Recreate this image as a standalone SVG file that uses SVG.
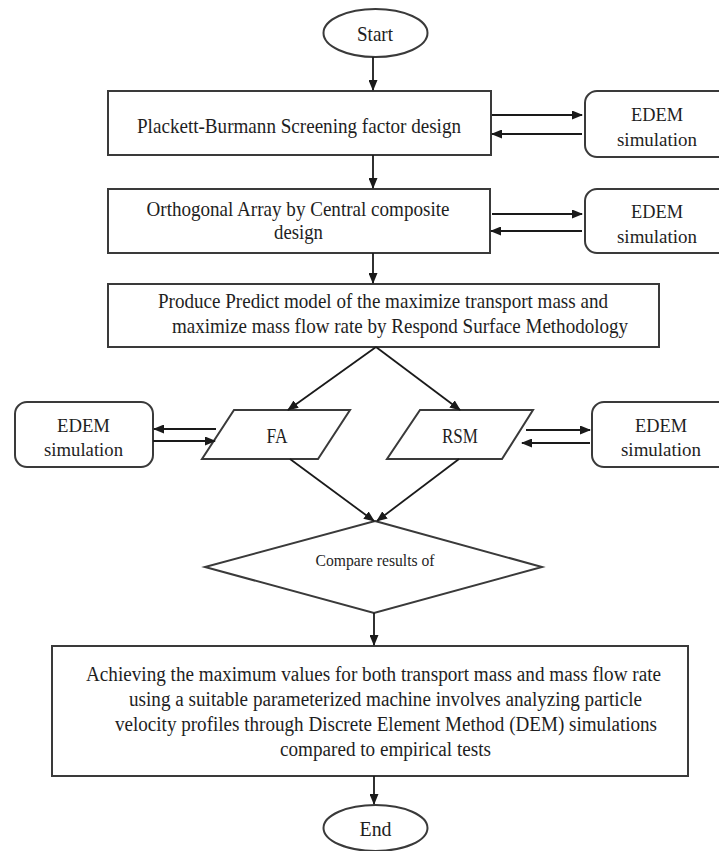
<svg xmlns="http://www.w3.org/2000/svg" width="719" height="851" viewBox="0 0 719 851">
  <defs>
    <marker id="ah" markerUnits="userSpaceOnUse" markerWidth="11" markerHeight="9" refX="10" refY="4.5" orient="auto">
      <path d="M0,0 L11,4.5 L0,9 z" fill="#1a1a1a"/>
    </marker>
    <style>
      .box{fill:#fff;stroke:#3a3a3a;stroke-width:2}
      .conn line{stroke:#1a1a1a;stroke-width:1.8;marker-end:url(#ah)}
      text{font-family:"Liberation Serif","Times New Roman",serif;fill:#1e1e1e;text-anchor:middle}
      .t{font-size:22px}
      .r{font-size:20px}
      .s{font-size:19.5px}
      .p{font-size:20px}
      .c{font-size:17px}
    </style>
  </defs>
  <rect width="719" height="851" fill="#fff"/>

  <g id="start">
    <ellipse class="box" cx="375.5" cy="33" rx="52" ry="24"/>
    <text class="t" x="375" y="41" textLength="36" lengthAdjust="spacingAndGlyphs">Start</text>
  </g>

  <g id="pb">
    <rect class="box" x="108" y="91" width="383" height="64"/>
    <text class="t" x="299" y="133" textLength="324" lengthAdjust="spacingAndGlyphs">Plackett-Burmann Screening factor design</text>
  </g>

  <g id="edem1">
    <rect class="box" x="585" y="91" width="150" height="66" rx="12"/>
    <text class="s" x="657" y="121" textLength="52" lengthAdjust="spacingAndGlyphs">EDEM</text>
    <text class="s" x="657" y="146" textLength="80" lengthAdjust="spacingAndGlyphs">simulation</text>
  </g>

  <g id="oa">
    <rect class="box" x="108" y="189" width="382" height="64"/>
    <text class="t" x="298" y="216" textLength="303" lengthAdjust="spacingAndGlyphs">Orthogonal Array by Central composite</text>
    <text class="t" x="298.5" y="239" textLength="49" lengthAdjust="spacingAndGlyphs">design</text>
  </g>

  <g id="edem2">
    <rect class="box" x="585" y="189" width="150" height="64" rx="12"/>
    <text class="s" x="657" y="218" textLength="52" lengthAdjust="spacingAndGlyphs">EDEM</text>
    <text class="s" x="657" y="243" textLength="80" lengthAdjust="spacingAndGlyphs">simulation</text>
  </g>

  <g id="rsm-model">
    <rect class="box" x="108" y="284" width="551" height="63"/>
    <text class="t" x="383" y="308" textLength="450" lengthAdjust="spacingAndGlyphs">Produce Predict model of the maximize transport mass and</text>
    <text class="t" x="400" y="333" textLength="456" lengthAdjust="spacingAndGlyphs">maximize mass flow rate by Respond Surface Methodology</text>
  </g>

  <g id="edem-left">
    <rect class="box" x="15" y="402" width="138" height="65" rx="12"/>
    <text class="s" x="83.5" y="432" textLength="53" lengthAdjust="spacingAndGlyphs">EDEM</text>
    <text class="s" x="83.5" y="456" textLength="79" lengthAdjust="spacingAndGlyphs">simulation</text>
  </g>

  <g id="fa">
    <polygon class="box" points="234,410 350,410 318,459 202,459"/>
    <text class="p" x="277" y="443" textLength="21" lengthAdjust="spacingAndGlyphs">FA</text>
  </g>

  <g id="rsm">
    <polygon class="box" points="420,410 533,410 502,459 387,459"/>
    <text class="p" x="460" y="443" textLength="36" lengthAdjust="spacingAndGlyphs">RSM</text>
  </g>

  <g id="edem-right">
    <rect class="box" x="592" y="402" width="150" height="65" rx="12"/>
    <text class="s" x="661" y="432" textLength="52" lengthAdjust="spacingAndGlyphs">EDEM</text>
    <text class="s" x="661" y="456" textLength="80" lengthAdjust="spacingAndGlyphs">simulation</text>
  </g>

  <g id="compare">
    <polygon class="box" points="375,521 542,567 374,613 205,567"/>
    <text class="c" x="375" y="566" textLength="119" lengthAdjust="spacingAndGlyphs">Compare results of</text>
  </g>

  <g id="result">
    <rect class="box" x="52" y="646" width="636" height="130"/>
    <text class="r" x="373.5" y="681" textLength="575" lengthAdjust="spacingAndGlyphs">Achieving the maximum values for both transport mass and mass flow rate</text>
    <text class="r" x="385.5" y="706" textLength="513" lengthAdjust="spacingAndGlyphs">using a suitable parameterized machine involves analyzing particle</text>
    <text class="r" x="386" y="731" textLength="542" lengthAdjust="spacingAndGlyphs">velocity profiles through Discrete Element Method (DEM) simulations</text>
    <text class="r" x="385.5" y="756" textLength="211" lengthAdjust="spacingAndGlyphs">compared to empirical tests</text>
  </g>

  <g id="end">
    <ellipse class="box" cx="375.5" cy="828" rx="52" ry="23"/>
    <text class="t" x="375.5" y="836" textLength="32" lengthAdjust="spacingAndGlyphs">End</text>
  </g>

  <g id="connectors" class="conn">
    <line x1="373" y1="57" x2="373" y2="90"/>
    <line x1="492" y1="115" x2="582" y2="115"/>
    <line x1="582" y1="134" x2="492" y2="134"/>
    <line x1="373" y1="155" x2="373" y2="188"/>
    <line x1="492" y1="214" x2="582" y2="214"/>
    <line x1="582" y1="231" x2="491" y2="231"/>
    <line x1="373" y1="253" x2="373" y2="283"/>
    <line x1="376" y1="347" x2="288" y2="410"/>
    <line x1="376" y1="347" x2="460" y2="410"/>
    <line x1="216" y1="429" x2="154" y2="429"/>
    <line x1="153" y1="441" x2="215" y2="441"/>
    <line x1="526" y1="430" x2="590" y2="430"/>
    <line x1="590" y1="443" x2="522" y2="443"/>
    <line x1="290" y1="459" x2="374" y2="521"/>
    <line x1="459" y1="459" x2="377" y2="521"/>
    <line x1="374" y1="613" x2="374" y2="645"/>
    <line x1="374" y1="776" x2="374" y2="804"/>
  </g>
</svg>
